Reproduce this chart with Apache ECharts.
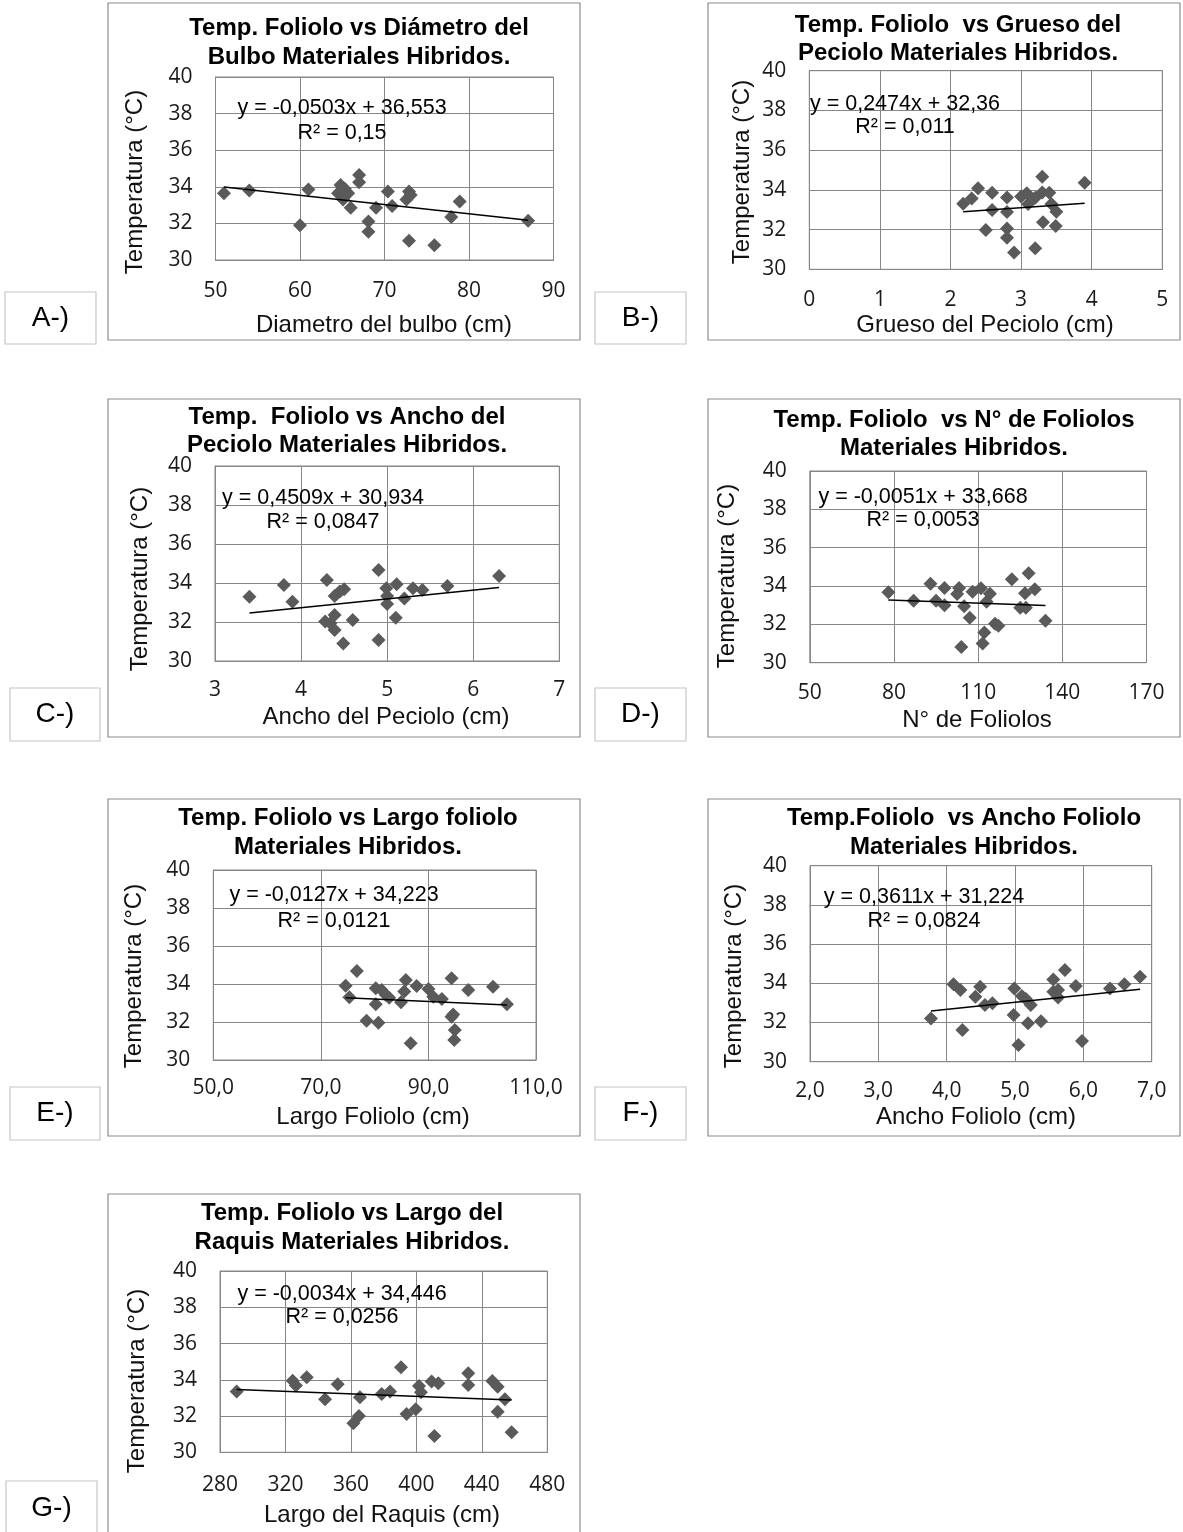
<!DOCTYPE html>
<html>
<head>
<meta charset="utf-8">
<script src="https://cdn.jsdelivr.net/npm/echarts@6/dist/echarts.min.js"></script>
<style>
  html, body { margin: 0; padding: 0; background: #ffffff; }
  #chart { width: 1183px; height: 1532px; }
</style>
</head>
<body>
<div id="chart"></div>
<script>
// Temperatura del foliolo (°C) frente a siete variables morfológicas, materiales híbridos.

// A) Diámetro del bulbo (cm)
const diametroBulbo = [51, 54, 60, 61, 64.5, 64.8, 65.1, 65.3, 65.7, 66, 67, 67, 68.1, 68.1, 69, 70.4, 70.9, 72.6, 72.9, 73.1, 72.9, 75.9, 77.9, 78.9, 87];
const tempBulbo = [33.65, 33.8, 31.9, 33.85, 33.65, 34.1, 33.3, 33.9, 33.65, 32.85, 34.65, 34.25, 32.1, 31.55, 32.85, 33.75, 32.95, 33.3, 33.75, 33.55, 31.05, 30.8, 32.35, 33.2, 32.15];

// B) Grueso del peciolo (cm)
const gruesoPeciolo = [2.18, 2.3, 2.39, 2.5, 2.59, 2.59, 2.8, 2.8, 2.8, 2.8, 2.9, 3.0, 3.08, 3.1, 3.2, 3.2, 3.3, 3.3, 3.31, 3.4, 3.43, 3.5, 3.49, 3.9];
const tempGrueso = [33.3, 33.57, 34.08, 31.98, 33.86, 32.99, 33.62, 32.89, 32.06, 31.59, 30.84, 33.66, 33.83, 33.29, 33.6, 31.06, 34.66, 33.87, 32.37, 33.86, 33.29, 32.9, 32.18, 34.36];

// C) Ancho del peciolo (cm)
const anchoPeciolo = [3.4, 3.8, 3.9, 4.3, 4.28, 4.34, 4.39, 4.39, 4.39, 4.45, 4.5, 4.49, 4.6, 4.9, 4.9, 4.99, 5.0, 5.0, 5.11, 5.1, 5.2, 5.3, 5.41, 5.7, 6.3];
const tempAnchoPeciolo = [33.3, 33.9, 33.04, 34.15, 32.02, 31.93, 33.33, 32.36, 31.59, 33.56, 33.68, 30.9, 32.1, 34.67, 31.08, 33.73, 33.33, 32.92, 33.93, 32.22, 33.21, 33.73, 33.64, 33.85, 34.36];

// D) Número de foliolos
const numFoliolos = [78, 87, 93, 95, 98, 98, 102.5, 103.2, 105, 107, 104, 108, 111, 112.2, 111.6, 113, 114.2, 116, 117.2, 122, 125, 127, 126.7, 128, 130.2, 134];
const tempNumFoliolos = [33.67, 33.23, 34.12, 33.23, 33.9, 33.0, 33.58, 33.9, 32.95, 32.35, 30.82, 33.7, 33.88, 31.58, 31.0, 33.18, 33.6, 32.03, 31.93, 34.35, 32.87, 32.87, 33.62, 34.66, 33.83, 32.19];

// E) Largo del foliolo (cm)
const largoFoliolo = [74.6, 75.3, 76.7, 78.5, 80.2, 80.2, 80.7, 81.3, 82.1, 82.7, 84.9, 85.5, 85.8, 86.7, 87.8, 90, 90.9, 92.5, 94.3, 94.3, 94.6, 94.9, 94.8, 97.4, 102, 104.6];
const tempLargoFoliolo = [33.91, 33.3, 34.68, 32.07, 33.77, 32.93, 31.96, 33.68, 33.42, 33.28, 33.04, 33.6, 34.21, 30.88, 33.9, 33.74, 33.33, 33.21, 34.3, 32.28, 32.4, 31.58, 31.05, 33.68, 33.86, 32.93];

// F) Ancho del foliolo (cm)
const anchoFoliolo = [3.77, 4.1, 4.2, 4.23, 4.42, 4.49, 4.56, 4.67, 4.98, 4.99, 5.05, 5.1, 5.16, 5.19, 5.23, 5.38, 5.56, 5.56, 5.63, 5.63, 5.73, 5.89, 5.98, 6.39, 6.6, 6.83];
const tempAnchoFoliolo = [32.21, 33.95, 33.66, 31.62, 33.32, 33.83, 32.89, 32.98, 32.38, 33.74, 30.85, 33.35, 33.2, 31.96, 32.89, 32.07, 34.2, 33.57, 33.66, 33.28, 34.68, 33.86, 31.05, 33.74, 33.95, 34.34];

// G) Largo del raquis (cm)
const largoRaquis = [290.2, 324.4, 326.4, 333, 344.2, 351.9, 361.5, 364.9, 365.5, 378.8, 383.9, 390.6, 394, 399.6, 401.6, 402.8, 409.3, 411, 413.4, 431.7, 431.7, 446.4, 449.7, 449.7, 454.1, 458.2];
const tempRaquis = [33.35, 33.95, 33.68, 34.14, 32.92, 33.75, 31.6, 32.0, 33.03, 33.22, 33.35, 34.69, 32.11, 32.37, 33.66, 33.31, 33.9, 30.9, 33.81, 34.36, 33.71, 33.93, 33.62, 32.24, 32.92, 31.1];

// Linear trendlines: slope, intercept and R²
const slopes = [-0.0503, 0.2474, 0.4509, -0.0051, -0.0127, 0.3611, -0.0034];
const intercepts = [36.553, 32.36, 30.934, 33.668, 34.223, 31.224, 34.446];
const rSquared = ['0,15', '0,011', '0,0847', '0,0053', '0,0121', '0,0824', '0,0256'];

// Axis scales
const xMins = [50, 0, 3, 50, 50, 2, 280];
const xMaxs = [90, 5, 7, 170, 110, 7, 480];
const xSteps = [10, 1, 1, 30, 20, 1, 40];
const xDecimals = [0, 0, 0, 0, 1, 1, 0];
const yMin = 30, yMax = 40, yStep = 2;

// Texts
const panelTags = ['A-)', 'B-)', 'C-)', 'D-)', 'E-)', 'F-)', 'G-)'];
const titles = [
  ['Temp. Foliolo vs Diámetro del', 'Bulbo Materiales Hibridos.'],
  ['Temp. Foliolo  vs Grueso del', 'Peciolo Materiales Hibridos.'],
  ['Temp.  Foliolo vs Ancho del', 'Peciolo Materiales Hibridos.'],
  ['Temp. Foliolo  vs N° de Foliolos', 'Materiales Hibridos.'],
  ['Temp. Foliolo vs Largo foliolo', 'Materiales Hibridos.'],
  ['Temp.Foliolo  vs Ancho Foliolo', 'Materiales Hibridos.'],
  ['Temp. Foliolo vs Largo del', 'Raquis Materiales Hibridos.']
];
const xTitles = ['Diametro del bulbo (cm)', 'Grueso del Peciolo (cm)', 'Ancho del Peciolo (cm)', 'N° de Foliolos', 'Largo Foliolo (cm)', 'Ancho Foliolo (cm)', 'Largo del Raquis (cm)'];
const yTitle = 'Temperatura (°C)';

const xSeries = [diametroBulbo, gruesoPeciolo, anchoPeciolo, numFoliolos, largoFoliolo, anchoFoliolo, largoRaquis];
const ySeries = [tempBulbo, tempGrueso, tempAnchoPeciolo, tempNumFoliolos, tempLargoFoliolo, tempAnchoFoliolo, tempRaquis];

// ---- Layout (pixels) ----
const plotRects = [
  [215.5, 77, 338, 183],
  [809.3, 70.7, 353, 198.6],
  [215, 466, 344.3, 195],
  [809.8, 471, 336.7, 191.7],
  [213.3, 870, 322.7, 190],
  [810, 865.7, 341.7, 196],
  [220, 1271, 327.3, 181.3]
];
const frameRects = [
  [108, 3, 472, 337],
  [708, 3, 472, 337],
  [108, 399, 472, 338],
  [708, 399, 472, 338],
  [108, 799, 472, 337],
  [708, 799, 472, 337],
  [108, 1194, 472, 345]
];
const tagRects = [
  [5, 292, 91, 52], [595, 292, 91, 52],
  [10, 688, 90, 53], [595, 688, 91, 53],
  [10, 1087, 90, 53], [595, 1087, 91, 53],
  [6, 1481, 91, 55]
];
const titlePos = [[359, 28, 57], [958, 25, 53], [347, 417, 445], [954, 420, 448], [348, 818, 847], [964, 818, 847], [352, 1213, 1242]];
const yTitlePos = [[135, 182], [742, 172], [140, 579], [727, 576], [134, 976], [734, 976], [137, 1381]];
const xTitlePos = [[384, 325], [985, 325], [386, 717], [977, 720], [373, 1117], [976, 1117], [382, 1515]];
const eqPos = [[342, 108, 133], [905, 104, 127], [323, 498, 522], [923, 497, 520], [334, 895, 921], [924, 897, 921], [342, 1294, 1317]];
const xLabelMargins = [21, 20, 19, 20, 18, 19, 22];

const GRID_COLOR = '#878787';
const MARK_COLOR = '#5a5a5a';
const SANS = '"Liberation Sans", Arial, sans-serif';
const TICK_FONT = '"Open Sans", sans-serif';

function decimalComma(v) {
  return String(v).replace('.', ',');
}

const grids = [], xAxes = [], yAxes = [], series = [], graphics = [];

for (let i = 0; i < 7; i++) {
  const [gl, gt, gw, gh] = plotRects[i];
  grids.push({ left: gl, top: gt, width: gw, height: gh, show: true, borderColor: GRID_COLOR, borderWidth: 1, backgroundColor: 'transparent' });

  const dec = xDecimals[i];
  xAxes.push({
    type: 'value', gridIndex: i, min: xMins[i], max: xMaxs[i], interval: xSteps[i],
    axisLine: { show: true, lineStyle: { color: GRID_COLOR, width: 1 } },
    axisTick: { show: false },
    splitLine: { show: true, lineStyle: { color: GRID_COLOR, width: 1 } },
    axisLabel: {
      margin: xLabelMargins[i], fontFamily: TICK_FONT, fontSize: 21, color: '#1a1a1a',
      formatter: v => decimalComma(v.toFixed(dec))
    }
  });
  yAxes.push({
    type: 'value', gridIndex: i, min: yMin, max: yMax, interval: yStep,
    axisLine: { show: true, lineStyle: { color: GRID_COLOR, width: 1 } },
    axisTick: { show: false },
    splitLine: { show: true, lineStyle: { color: GRID_COLOR, width: 1 } },
    axisLabel: { margin: 23, fontFamily: TICK_FONT, fontSize: 21, color: '#1a1a1a' }
  });

  const xs = xSeries[i], ys = ySeries[i];
  series.push({
    type: 'scatter', xAxisIndex: i, yAxisIndex: i, z: 2,
    symbol: 'diamond', symbolSize: 14,
    itemStyle: { color: MARK_COLOR, opacity: 1 },
    data: xs.map((x, k) => [x, ys[k]])
  });

  // Trendline over the observed range of x
  const x0 = Math.min(...xs), x1 = Math.max(...xs);
  series.push({
    type: 'line', xAxisIndex: i, yAxisIndex: i, z: 3,
    showSymbol: false, silent: true,
    lineStyle: { color: '#000000', width: 1.5 },
    data: [[x0, slopes[i] * x0 + intercepts[i]], [x1, slopes[i] * x1 + intercepts[i]]]
  });

  // Chart frame
  const [fx, fy, fw, fh] = frameRects[i];
  graphics.push({ type: 'rect', z: -10, shape: { x: fx, y: fy, width: fw, height: fh }, style: { fill: 'none', stroke: '#8c8c8c', lineWidth: 1.2 } });

  // Panel tag box
  const [tx, ty, tw, th] = tagRects[i];
  graphics.push({ type: 'rect', z: -10, shape: { x: tx, y: ty, width: tw, height: th }, style: { fill: 'none', stroke: '#c6c6c6', lineWidth: 1.2 } });
  graphics.push({ type: 'text', x: tx + tw / 2, y: ty + th / 2, style: { text: panelTags[i], font: '28px ' + SANS, fill: '#000', align: 'center', verticalAlign: 'middle' } });

  // Title (two lines)
  const [cx, l1, l2] = titlePos[i];
  graphics.push({ type: 'text', x: cx, y: l1, style: { text: titles[i][0], font: 'bold 24px ' + SANS, fill: '#000', align: 'center', verticalAlign: 'middle' } });
  graphics.push({ type: 'text', x: cx, y: l2, style: { text: titles[i][1], font: 'bold 24px ' + SANS, fill: '#000', align: 'center', verticalAlign: 'middle' } });

  // Axis titles
  graphics.push({ type: 'text', x: yTitlePos[i][0], y: yTitlePos[i][1], rotation: Math.PI / 2, style: { text: yTitle, font: '24px ' + SANS, fill: '#111', align: 'center', verticalAlign: 'middle' } });
  graphics.push({ type: 'text', x: xTitlePos[i][0], y: xTitlePos[i][1], style: { text: xTitles[i], font: '24px ' + SANS, fill: '#111', align: 'center', verticalAlign: 'middle' } });

  // Trendline equation and R²
  const sign = intercepts[i] >= 0 ? '+' : '-';
  const eq = 'y = ' + decimalComma(slopes[i]) + 'x ' + sign + ' ' + decimalComma(Math.abs(intercepts[i]));
  const [ex, ey1, ey2] = eqPos[i];
  graphics.push({ type: 'text', z: 20, x: ex, y: ey1, style: { text: eq, font: '21.5px ' + SANS, fill: '#000', align: 'center', verticalAlign: 'middle' } });
  graphics.push({ type: 'text', z: 20, x: ex, y: ey2, style: { text: 'R² = ' + rSquared[i], font: '21.5px ' + SANS, fill: '#000', align: 'center', verticalAlign: 'middle' } });
}

const chart = echarts.init(document.getElementById('chart'), null, { renderer: 'canvas', width: 1183, height: 1532 });
chart.setOption({
  backgroundColor: '#ffffff',
  animation: false,
  grid: grids,
  xAxis: xAxes,
  yAxis: yAxes,
  series: series,
  graphic: graphics
});
</script>
</body>
</html>
